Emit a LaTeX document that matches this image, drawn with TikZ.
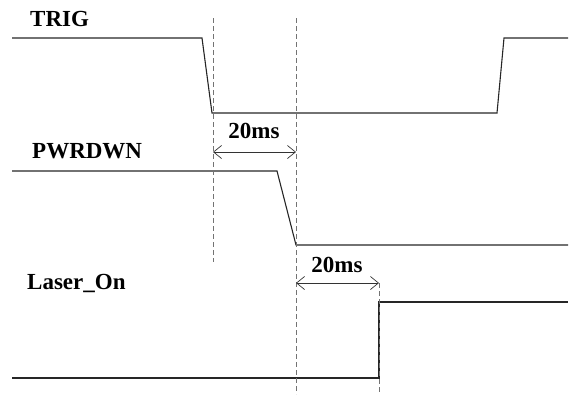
\documentclass[tikz,border=0pt]{standalone}
\usepackage{fontspec}
\setmainfont{Liberation Serif}
\usetikzlibrary{arrows.meta}

\begin{document}
\begin{tikzpicture}[
  x=1pt, y=-1pt,
  font=\fontsize{23}{26}\selectfont\bfseries,
  wave/.style={draw=black!85, line width=1.1pt},
  marker/.style={draw=black!55, line width=0.9pt, dash pattern=on 5pt off 3pt},
  span/.style={draw=black!80, line width=0.7pt,
    {Straight Barb[length=8pt,width=13pt]}-{Straight Barb[length=8pt,width=13pt]}},
  sig/.style={anchor=base west, inner sep=0pt},
  gap/.style={anchor=base, inner sep=0pt},
]
\useasboundingbox (0,0) rectangle (569,394);

% --- Signal names ---
\node[sig] (trig)   at (30, 26)  {TRIG};
\node[sig] (pwrdwn) at (32, 158) {PWRDWN};
\node[sig] (laser)  at (27, 289) {Laser\_On};

% --- Waveforms ---
\draw[wave] (12,38) -- (202,38) -- (212,113) -- (497,113) -- (504,38) -- (568,38);
\draw[wave] (12,171) -- (277,171) -- (296,245) -- (568,245);
\draw[wave] (12,378) -- (379,378) -- (379,302) -- (568,302);

% --- Timing markers ---
\coordinate (m1top) at (213, 18);  \coordinate (m1bot) at (213, 262);
\coordinate (m2top) at (296, 18);  \coordinate (m2bot) at (296, 394);
\coordinate (m3top) at (379, 283); \coordinate (m3bot) at (379, 394);
\draw[marker] (m1top) -- (m1bot);
\draw[marker] (m2top) -- (m2bot);
\draw[marker] (m3top) -- (m3bot);

% --- Delays between markers ---
\coordinate (a1l) at (213, 152); \coordinate (a1r) at (296, 152);
\coordinate (a2l) at (296, 283); \coordinate (a2r) at (379, 283);
\draw[span] (a1l) -- (a1r);
\draw[span] (a2l) -- (a2r);
\node[gap] (d1) at (254, 138) {20ms};
\node[gap] (d2) at (337, 272) {20ms};

\end{tikzpicture}
\end{document}
